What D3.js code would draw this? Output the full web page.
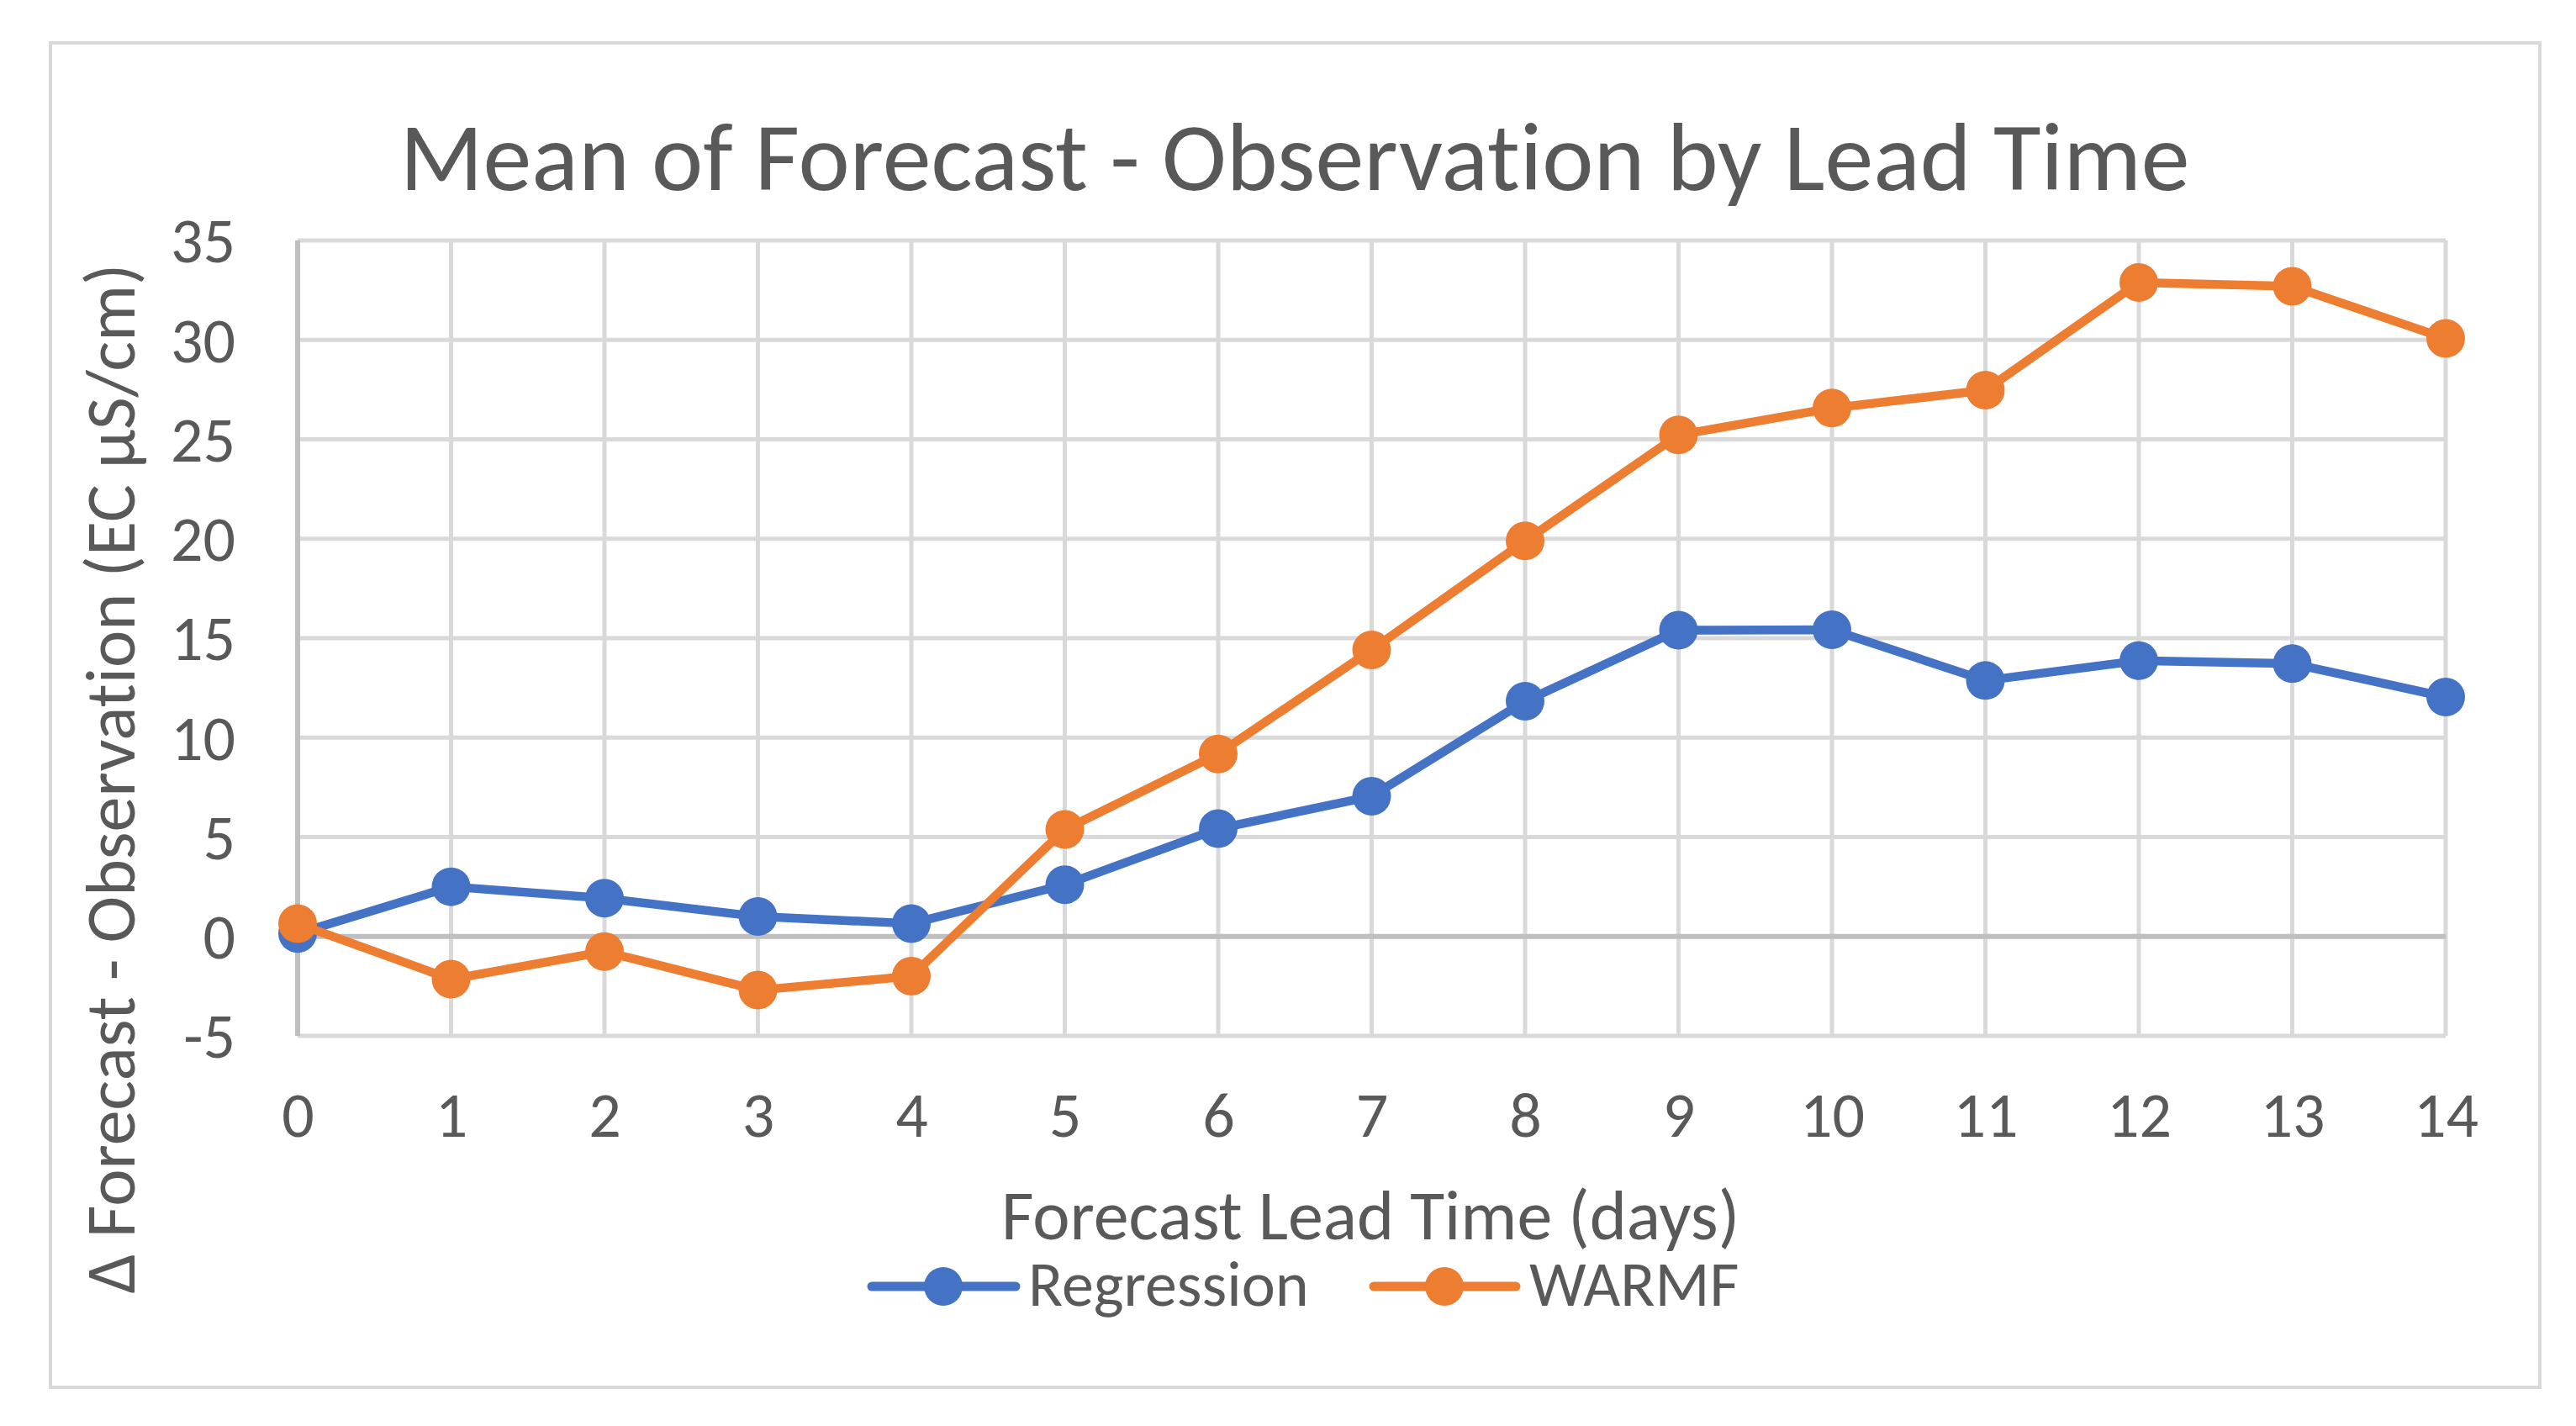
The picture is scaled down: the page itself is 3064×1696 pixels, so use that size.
<!DOCTYPE html>
<html>
<head>
<meta charset="utf-8">
<script src="https://cdn.jsdelivr.net/npm/d3@7"></script>
<style>
  html, body { margin: 0; padding: 0; background: #fff; }
  svg { display: block; }
  text { font-family: Carlito, Calibri, Lato, sans-serif; fill: #595959; font-variant-ligatures: none; }
</style>
</head>
<body>
<svg id="chart" width="3064" height="1696"></svg>
<script>
// chart data
const leadTime = [0, 1, 2, 3, 4, 5, 6, 7, 8, 9, 10, 11, 12, 13, 14];
const regression = [0.15, 2.5, 1.92, 1.0, 0.65, 2.6, 5.42, 7.05, 11.83, 15.4, 15.42, 12.87, 13.87, 13.72, 12.04];
const warmf = [0.64, -2.15, -0.76, -2.7, -2.0, 5.38, 9.18, 14.41, 19.89, 25.22, 26.57, 27.47, 32.89, 32.7, 30.07];
const yTicks = [-5, 0, 5, 10, 15, 20, 25, 30, 35];
const seriesNames = ["Regression", "WARMF"];
const seriesColors = ["#4472C4", "#ED7D31"];

const W = 3064, H = 1696;
const plot = { left: 354, right: 2909, top: 286, bottom: 1232 };
const fs = { title: 116, tick: 76, axis: 84, legend: 76 };

const svg = d3.select("#chart");

svg.append("rect").attr("width", W).attr("height", H).attr("fill", "#fff");

// outer chart border
svg.append("rect")
  .attr("x", 60).attr("y", 51).attr("width", 2961).attr("height", 1599)
  .attr("fill", "none").attr("stroke", "#d9d9d9").attr("stroke-width", 4);

const x = d3.scaleLinear().domain([0, 14]).range([plot.left, plot.right]);
const y = d3.scaleLinear().domain([-5, 35]).range([plot.bottom, plot.top]);

// gridlines
const grid = svg.append("g").attr("stroke", "#d9d9d9").attr("stroke-width", 5);
grid.selectAll(".h").data(yTicks).join("line")
  .attr("x1", plot.left).attr("x2", plot.right)
  .attr("y1", d => y(d)).attr("y2", d => y(d));
grid.selectAll(".v").data(leadTime).join("line")
  .attr("x1", d => x(d)).attr("x2", d => x(d))
  .attr("y1", plot.top).attr("y2", plot.bottom);

// axis lines (left side and zero line are a bit darker)
svg.append("line")
  .attr("x1", x(0)).attr("x2", x(0)).attr("y1", plot.top).attr("y2", plot.bottom)
  .attr("stroke", "#bfbfbf").attr("stroke-width", 6);
svg.append("line")
  .attr("x1", plot.left).attr("x2", plot.right).attr("y1", y(0)).attr("y2", y(0))
  .attr("stroke", "#bfbfbf").attr("stroke-width", 6);

// tick labels
const yAxis = svg.append("g").attr("transform", `translate(${plot.left},0)`)
  .call(d3.axisLeft(y).tickValues(yTicks).tickFormat(d => String(d)).tickSize(0).tickPadding(74));
yAxis.attr("font-family", null).attr("font-size", null);
yAxis.select(".domain").remove();
yAxis.selectAll("text").style("font-size", fs.tick + "px").attr("dy", "0.34em").attr("fill", "#595959");

const xAxis = svg.append("g").attr("transform", `translate(0,${plot.bottom})`)
  .call(d3.axisBottom(x).tickValues(leadTime).tickFormat(d => String(d)).tickSize(0));
xAxis.attr("font-family", null).attr("font-size", null);
xAxis.select(".domain").remove();
xAxis.selectAll("text").style("font-size", fs.tick + "px")
  .attr("y", 120).attr("dy", null).attr("fill", "#595959");

// series lines + markers
const line = d3.line().x((d, i) => x(leadTime[i])).y(d => y(d));
[regression, warmf].forEach((vals, k) => {
  svg.append("path").datum(vals)
    .attr("d", line).attr("fill", "none")
    .attr("stroke", seriesColors[k]).attr("stroke-width", 10.5)
    .attr("stroke-linejoin", "round").attr("stroke-linecap", "round");
  svg.append("g").selectAll("circle").data(vals).join("circle")
    .attr("cx", (d, i) => x(leadTime[i])).attr("cy", d => y(d))
    .attr("r", 23).attr("fill", seriesColors[k]);
});

// titles
svg.append("text").attr("x", 1540).attr("y", 226).attr("text-anchor", "middle")
  .style("font-size", fs.title + "px").text("Mean of Forecast - Observation by Lead Time");

svg.append("text").attr("x", 1630).attr("y", 1474).attr("text-anchor", "middle")
  .style("font-size", fs.axis + "px").text("Forecast Lead Time (days)");

svg.append("text").attr("transform", "translate(160,926) rotate(-90)")
  .attr("text-anchor", "middle")
  .style("font-size", fs.axis + "px").text("Δ Forecast - Observation (EC µS/cm)");

// legend
const legendItems = [
  { x0: 1037, x1: 1208, cx: 1122, tx: 1223 },
  { x0: 1634, x1: 1803, cx: 1718, tx: 1819 }
];
const lg = svg.append("g");
legendItems.forEach((it, k) => {
  lg.append("line").attr("x1", it.x0).attr("x2", it.x1).attr("y1", 1530).attr("y2", 1530)
    .attr("stroke", seriesColors[k]).attr("stroke-width", 11).attr("stroke-linecap", "round");
  lg.append("circle").attr("cx", it.cx).attr("cy", 1530).attr("r", 23).attr("fill", seriesColors[k]);
  lg.append("text").attr("x", it.tx).attr("y", 1553)
    .style("font-size", fs.legend + "px").text(seriesNames[k]);
});
</script>
</body>
</html>
